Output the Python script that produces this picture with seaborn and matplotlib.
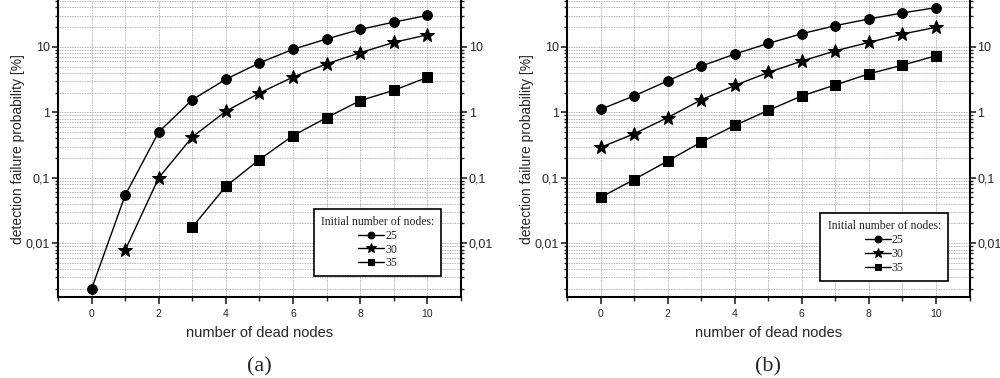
import numpy as np
import matplotlib
matplotlib.use("Agg")
import matplotlib.pyplot as plt
from matplotlib.ticker import LogLocator, FuncFormatter, MultipleLocator, NullFormatter
import pandas as pd
import seaborn as sns

dead_nodes = list(range(11))

# panel (a)
a_25 = [0.002, 0.054, 0.50, 1.56, 3.2, 5.7, 9.2, 13.2, 18.5, 23.9, 30.3]
a_30 = [np.nan, 0.0078, 0.10, 0.42, 1.04, 1.97, 3.46, 5.5, 8.15, 11.7, 15.3]
a_35 = [np.nan, np.nan, np.nan, 0.0176, 0.074, 0.19, 0.44, 0.83, 1.51, 2.17, 3.42]

# panel (b)
b_25 = [1.11, 1.78, 3.02, 5.08, 7.76, 11.3, 15.9, 21.1, 26.7, 33.0, 39.8]
b_30 = [0.29, 0.47, 0.83, 1.55, 2.57, 4.06, 6.06, 8.7, 11.7, 15.7, 19.9]
b_35 = [0.050, 0.094, 0.18, 0.35, 0.63, 1.07, 1.78, 2.62, 3.87, 5.26, 7.3]

node_labels = ["25", "30", "35"]
panel_labels = ["(a)", "(b)"]

sns.set_style("white")
plt.rcParams["font.family"] = ["Liberation Sans", "DejaVu Sans"]


def to_long(series):
    rows = []
    for lab, vals in zip(node_labels, series):
        for x, v in zip(dead_nodes, vals):
            if not np.isnan(v):
                rows.append({"dead": x, "prob": v, "nodes": lab})
    return pd.DataFrame(rows)


def fmt(v, pos):
    if v >= 1:
        return "%d" % round(v)
    s = ("%.4f" % v).rstrip("0")
    return s.replace(".", ",")


def draw_panel(ax, series, caption, legend_pos):
    df = to_long(series)
    sns.lineplot(data=df, x="dead", y="prob", style="nodes", markers=["o", "*", "s"],
                 dashes=False, color="black", markersize=7, linewidth=1.0,
                 markeredgecolor="black", legend=False, ax=ax)
    # star a bit bigger
    for line in ax.lines:
        if line.get_marker() == "*":
            line.set_markersize(10)
    ax.set_yscale("log")
    ax.set_xlim(-1, 11)
    ax.set_ylim(0.0015, 50)
    ax.xaxis.set_major_locator(MultipleLocator(2))
    ax.xaxis.set_minor_locator(MultipleLocator(1))
    ax.yaxis.set_major_locator(LogLocator(base=10))
    ax.yaxis.set_minor_locator(LogLocator(base=10, subs=np.arange(2, 10)))
    ax.yaxis.set_major_formatter(FuncFormatter(fmt))
    ax.yaxis.set_minor_formatter(NullFormatter())
    ax.grid(True, which="both", color="#999999", linestyle=(0, (1, 1)), linewidth=0.6)
    ax.tick_params(axis="y", which="both", left=True, right=True, labelleft=True,
                   labelright=True, direction="out", labelsize=9, pad=1)
    ax.tick_params(axis="y", which="major", length=4.5, width=1.2)
    ax.tick_params(axis="y", which="minor", length=2.5, width=1.0)
    ax.tick_params(axis="x", which="both", bottom=True, direction="out", labelsize=7.5)
    ax.tick_params(axis="x", which="major", length=5, width=1.2)
    ax.tick_params(axis="x", which="minor", length=3, width=1.0)
    for side in ["left", "right", "bottom"]:
        ax.spines[side].set_linewidth(1.5)
        ax.spines[side].set_color("black")
    ax.spines["top"].set_visible(False)
    ax.set_xlabel("number of dead nodes", fontsize=10.5, labelpad=5)
    ax.set_ylabel("detection failure probability [%]", fontsize=10, labelpad=1)
    ax.text(0.5, -0.236, caption, transform=ax.transAxes, ha="center", va="center",
            fontsize=16, family=["Liberation Serif", "DejaVu Serif"])
    leg = ax.legend(handles=ax.lines[:3], labels=node_labels, title="Initial number of nodes:",
                    loc="lower left", bbox_to_anchor=legend_pos, frameon=True,
                    fancybox=False, edgecolor="black", framealpha=1,
                    prop={"family": "Liberation Serif", "size": 8.5},
                    title_fontproperties={"family": "Liberation Serif", "size": 8.5},
                    handlelength=2.2, handletextpad=0.1, labelspacing=0.15,
                    borderpad=0.6, markerscale=0.7)
    leg.get_frame().set_linewidth(1.2)
    leg._legend_box.align = "center"


fig = plt.figure(figsize=(10, 3.78), dpi=100)
ax1 = fig.add_axes([0.058, 0.214, 0.403, 0.783])
ax2 = fig.add_axes([0.567, 0.214, 0.4025, 0.783])

draw_panel(ax1, [a_25, a_30, a_35], panel_labels[0], (0.62, 0.05))
draw_panel(ax2, [b_25, b_30, b_35], panel_labels[1], (0.615, 0.035))

fig.savefig("out.png", dpi=100)
